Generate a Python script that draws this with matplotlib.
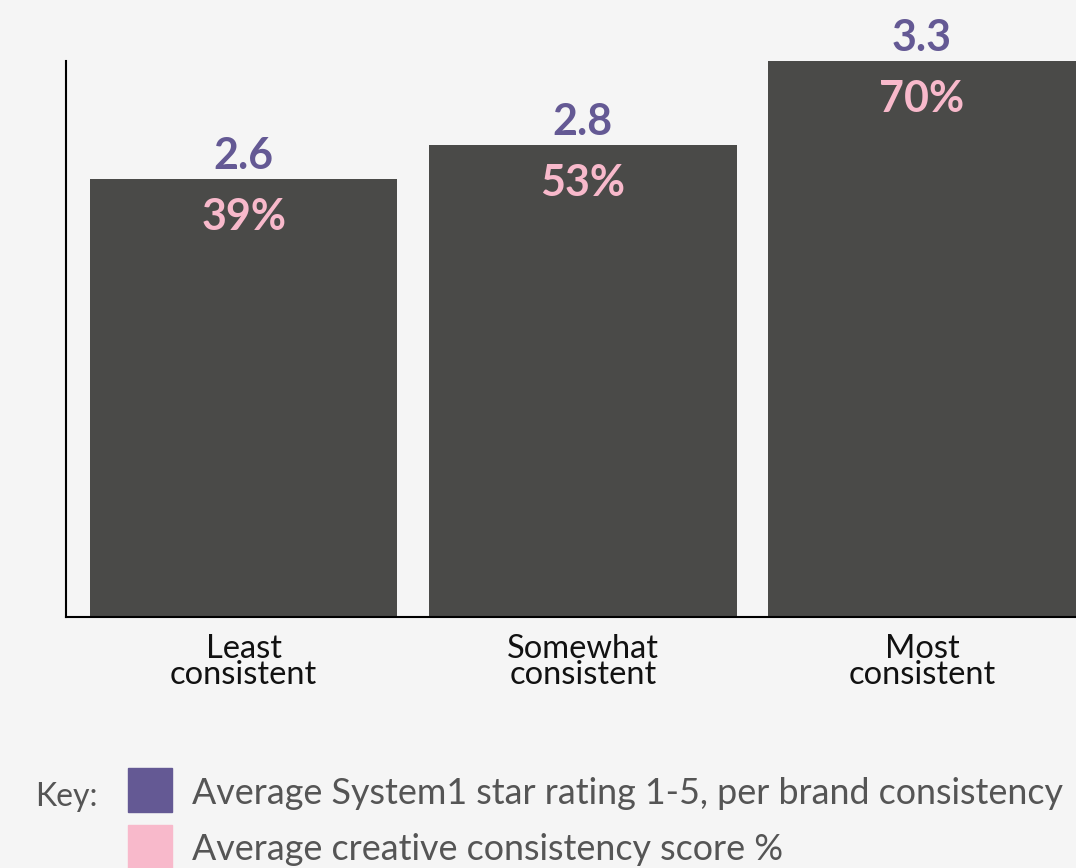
import matplotlib.pyplot as plt
from matplotlib.patches import Rectangle

categories = ['Least\nconsistent', 'Somewhat\nconsistent', 'Most\nconsistent']
star_rating = [2.6, 2.8, 3.3]
consistency_pct = [39, 53, 70]
key_labels = ['Average System1 star rating 1-5, per brand consistency',
              'Average creative consistency score %']

bg = '#f5f5f5'
bar_col = '#4a4a48'
purple = '#645994'
pink = '#f8b9cb'

plt.rcParams['font.family'] = ['Lato', 'DejaVu Sans']

fig = plt.figure(figsize=(10.76, 8.68), dpi=100, facecolor=bg)
ax = fig.add_axes([66/1076, 251/868, 1 - 66/1076, 556/868])
ax.set_facecolor(bg)

x = range(len(categories))
ax.bar(x, star_rating, width=0.906, color=bar_col)
ax.set_xlim(-0.524, 2.454)
ax.set_ylim(0, 3.3)

for i, (s, p) in enumerate(zip(star_rating, consistency_pct)):
    ax.annotate(f'{s}', (i, s), xytext=(0, 2), textcoords='offset points',
                ha='center', va='bottom', fontsize=31, fontweight='bold',
                color=purple, annotation_clip=False)
    ax.annotate(f'{p}%', (i, s), xytext=(0, -13), textcoords='offset points',
                ha='center', va='top', fontsize=31, fontweight='bold',
                color=pink, annotation_clip=False)

ax.set_xticks(list(x))
ax.set_xticklabels(categories, fontsize=23.5, linespacing=0.85,
                   color='#111111')
ax.tick_params(axis='x', length=0, pad=12)
ax.set_yticks([])
for side in ['top', 'right']:
    ax.spines[side].set_visible(False)
ax.spines['left'].set_linewidth(1.5)
ax.spines['bottom'].set_linewidth(1.5)

# key
fig.text(35/1076, 1 - 797/868, 'Key:', fontsize=23, color='#555555',
         ha='left', va='center')
for j, (lab, col) in enumerate(zip(key_labels, [purple, pink])):
    yc = 790 + j * 57
    fig.add_artist(Rectangle((128/1076, 1 - (yc + 22)/868), 44/1076, 44/868,
                             transform=fig.transFigure, color=col))
    fig.text(192/1076, 1 - (yc + 3)/868, lab, fontsize=25.8, color='#555555',
             ha='left', va='center')

fig.savefig('out.png', dpi=100, facecolor=bg)
